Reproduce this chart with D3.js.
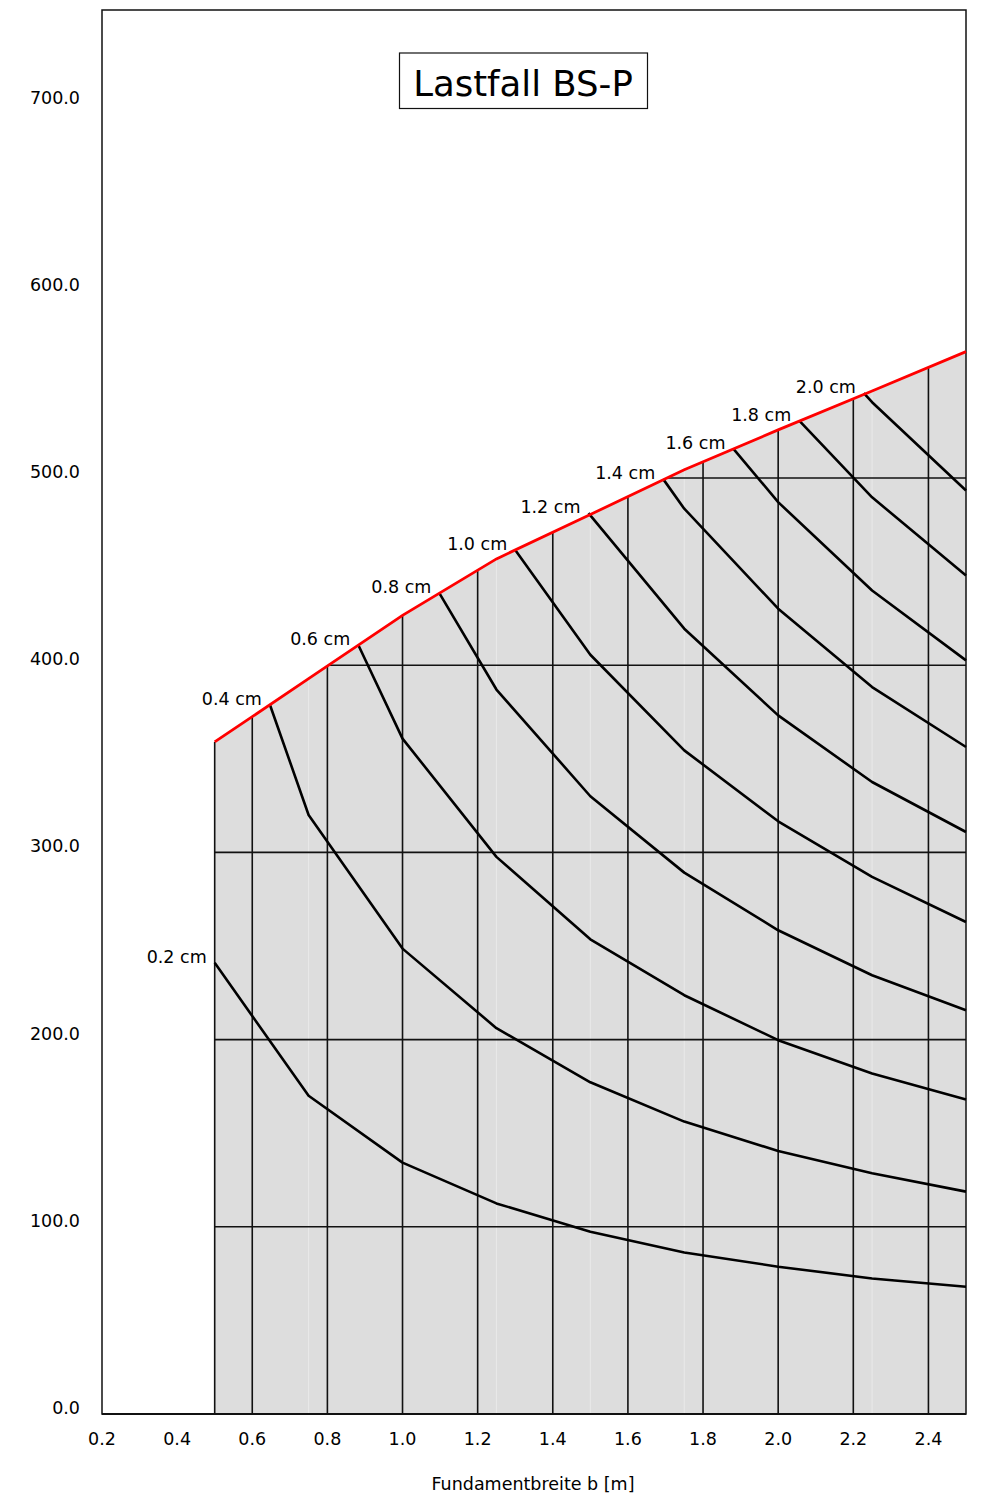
<!DOCTYPE html>
<html>
<head>
<meta charset="utf-8">
<script src="https://cdn.jsdelivr.net/npm/d3@7"></script>
<style>
  body { margin: 0; background: #fff; }
  text { font-family: "DejaVu Sans", sans-serif; fill: #000; }
</style>
</head>
<body>
<div id="chart"></div>
<script>
// Fundamentbreite b [m] vs. Sohldruck, Setzungslinien
const xTicks = [0.2, 0.4, 0.6, 0.8, 1.0, 1.2, 1.4, 1.6, 1.8, 2.0, 2.2, 2.4];
const yTicks = [0, 100, 200, 300, 400, 500, 600, 700];
const gridY = [100, 200, 300, 400, 500];
const seamX = [0.75, 1.25, 1.5, 1.75, 2.25];

// obere Grenze (rot)
const limitX = [0.5, 0.75, 1.0, 1.25, 1.5, 1.75, 2.0, 2.25, 2.5];
const limitY = [359, 392.8, 426.6, 456.8, 480.5, 504.4, 525.7, 546.5, 567.5];

const curveLabels = ["0.2 cm", "0.4 cm", "0.6 cm", "0.8 cm", "1.0 cm", "1.2 cm", "1.4 cm", "1.6 cm", "1.8 cm", "2.0 cm"];
const curveX = [
  [0.5, 0.75, 1.0, 1.25, 1.5, 1.75, 2.0, 2.25, 2.5],
  [0.647, 0.75, 1.0, 1.25, 1.5, 1.75, 2.0, 2.25, 2.5],
  [0.882, 1.0, 1.25, 1.5, 1.75, 2.0, 2.25, 2.5],
  [1.098, 1.25, 1.5, 1.75, 2.0, 2.25, 2.5],
  [1.3, 1.5, 1.75, 2.0, 2.25, 2.5],
  [1.495, 1.75, 2.0, 2.25, 2.5],
  [1.694, 1.75, 2.0, 2.25, 2.5],
  [1.881, 2.0, 2.25, 2.5],
  [2.056, 2.25, 2.5],
  [2.228, 2.25, 2.5]
];
const curveY = [
  [241, 170, 134.3, 112.5, 97.3, 86.3, 78.7, 72.4, 68],
  [378.9, 320, 248.6, 206.1, 177.2, 156.2, 140.5, 128.6, 118.8],
  [410.9, 360.8, 297.6, 253.6, 223.7, 199.7, 181.9, 168],
  [438.5, 387, 330, 289.2, 258.4, 234.4, 215.7],
  [461.5, 405.6, 354.5, 316.6, 286.9, 262.8],
  [481.2, 419.5, 373.2, 337.6, 310.9],
  [499.4, 483.6, 430.2, 388.3, 356.3],
  [515.6, 487.1, 439.9, 402.6],
  [530.7, 489.7, 447.9],
  [545.3, 540.5, 493.3]
];

const W = 983, H = 1496;
const svg = d3.select("#chart").append("svg")
    .attr("width", W)
    .attr("height", H);

const x = d3.scaleLinear().domain([0.2, 2.5]).range([102, 966]);
const y = d3.scaleLinear().domain([0, 750]).range([1414, 10]);

const limit = limitX.map((v, i) => [v, limitY[i]]);

// grau gefuellte Flaeche unter der roten Linie
const area = d3.area()
    .x(d => x(d[0]))
    .y0(y(0))
    .y1(d => y(d[1]));

svg.append("clipPath").attr("id", "fillclip")
  .append("path")
    .attr("d", area(limit));

svg.append("path")
    .attr("d", area(limit))
    .attr("fill", "#dddddd");

const grid = svg.append("g").attr("clip-path", "url(#fillclip)");

grid.selectAll(".seam")
    .data(seamX)
    .enter().append("line")
    .attr("x1", d => x(d)).attr("x2", d => x(d))
    .attr("y1", y(0)).attr("y2", y(750))
    .attr("stroke", "#e9e9e9")
    .attr("stroke-width", 1);

grid.selectAll(".gx")
    .data(xTicks)
    .enter().append("line")
    .attr("x1", d => x(d)).attr("x2", d => x(d))
    .attr("y1", y(0)).attr("y2", y(750))
    .attr("stroke", "#111")
    .attr("stroke-width", 1.6);

grid.selectAll(".gy")
    .data(gridY)
    .enter().append("line")
    .attr("x1", x(0.2)).attr("x2", x(2.5))
    .attr("y1", d => y(d)).attr("y2", d => y(d))
    .attr("stroke", "#111")
    .attr("stroke-width", 1.6);

// linker Rand der Flaeche
svg.append("line")
    .attr("x1", x(limitX[0])).attr("x2", x(limitX[0]))
    .attr("y1", y(0)).attr("y2", y(limitY[0]))
    .attr("stroke", "#111")
    .attr("stroke-width", 1.6);

// Rahmen
svg.append("rect")
    .attr("x", x(0.2)).attr("y", y(750))
    .attr("width", x(2.5) - x(0.2))
    .attr("height", y(0) - y(750))
    .attr("fill", "none")
    .attr("stroke", "#111")
    .attr("stroke-width", 1.5);
svg.append("line")
    .attr("x1", x(0.2)).attr("x2", x(2.5))
    .attr("y1", y(0)).attr("y2", y(0))
    .attr("stroke", "#111")
    .attr("stroke-width", 2);

const line = d3.line()
    .x(d => x(d[0]))
    .y(d => y(d[1]));

const curves = curveX.map((xs, i) => xs.map((v, j) => [v, curveY[i][j]]));

svg.selectAll(".curve")
    .data(curves)
    .enter().append("path")
    .attr("d", line)
    .attr("fill", "none")
    .attr("stroke", "#000")
    .attr("stroke-width", 2.6)
    .attr("stroke-linejoin", "round");

svg.append("path")
    .attr("d", line(limit))
    .attr("fill", "none")
    .attr("stroke", "#ff0000")
    .attr("stroke-width", 2.8);

svg.selectAll(".clabel")
    .data(curves)
    .enter().append("text")
    .attr("x", d => x(d[0][0]) - 8)
    .attr("y", d => y(d[0][1]))
    .attr("text-anchor", "end")
    .attr("font-size", 17.5)
    .text((d, i) => curveLabels[i]);

// Achsenbeschriftung
svg.selectAll(".ytick")
    .data(yTicks)
    .enter().append("text")
    .attr("x", 80)
    .attr("y", d => y(d))
    .attr("text-anchor", "end")
    .attr("font-size", 17.5)
    .text(d => d.toFixed(1));

svg.selectAll(".xtick")
    .data(xTicks)
    .enter().append("text")
    .attr("x", d => x(d))
    .attr("y", 1445)
    .attr("text-anchor", "middle")
    .attr("font-size", 17.5)
    .text(d => d.toFixed(1));

svg.append("text")
    .attr("x", 533)
    .attr("y", 1490)
    .attr("text-anchor", "middle")
    .attr("font-size", 17.5)
    .text("Fundamentbreite b [m]");

// Titel
svg.append("rect")
    .attr("x", 399.5).attr("y", 53)
    .attr("width", 248).attr("height", 55.5)
    .attr("fill", "#fff")
    .attr("stroke", "#111")
    .attr("stroke-width", 1.2);
svg.append("text")
    .attr("x", 523)
    .attr("y", 96)
    .attr("text-anchor", "middle")
    .attr("font-size", 35.5)
    .text("Lastfall BS-P");
</script>
</body>
</html>
